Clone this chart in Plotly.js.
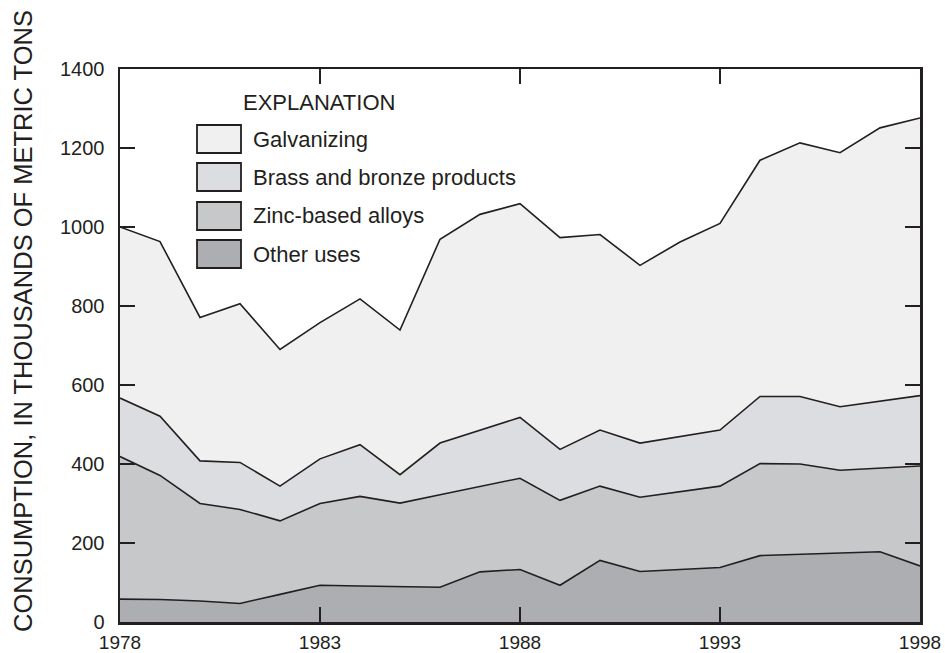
<!DOCTYPE html>
<html>
<head>
<meta charset="utf-8">
<script src="https://cdn.plot.ly/plotly-3.0.1.min.js"></script>
<style>html,body{margin:0;padding:0;background:#fff;}#chart{width:945px;height:653px;}</style>
</head>
<body>
<div id="chart"></div>
<script>
// Data (thousands of metric tons)
var years = [1978,1979,1980,1981,1982,1983,1984,1985,1986,1987,1988,1989,1990,1991,1992,1993,1994,1995,1996,1997,1998];
var otherUses = [58,57,53,47,70,93,91,89,88,127,133,93,156,128,133,138,168,171,174,178,142];
var zincAlloys = [361,314,247,238,186,207,227,212,234,216,231,215,188,188,197,206,233,229,210,212,253];
var brassBronze = [148,150,108,119,88,113,131,72,131,142,154,129,142,137,140,142,170,171,161,169,178];
var galvanizing = [433,442,363,402,346,345,369,366,516,547,541,536,495,450,492,523,598,642,643,692,703];
var seriesNames = ["Galvanizing","Brass and bronze products","Zinc-based alloys","Other uses"];
var legendTitle = "EXPLANATION";
var yTitle = "CONSUMPTION, IN THOUSANDS OF METRIC TONS";

var colors = {"Galvanizing":"#f0f0f0","Brass and bronze products":"#dcdde0","Zinc-based alloys":"#c7c8ca","Other uses":"#adaeb1"};
var ink = "#231f20";
var font = "Liberation Sans, Arial, sans-serif";

function tr(name, vals){
  return {x: years, y: vals, name: name, type: "scatter", mode: "lines",
    stackgroup: "one", line: {color: ink, width: 1.6}, fillcolor: colors[name], hoverinfo: "x+y+name"};
}
var data = [
  tr("Other uses", otherUses),
  tr("Zinc-based alloys", zincAlloys),
  tr("Brass and bronze products", brassBronze),
  tr("Galvanizing", galvanizing)
];

// plot area geometry in pixels (for legend placement)
var L = 120, R = 920, T = 69, B = 622;
function px(x){ return (x - L) / (R - L); }
function py(y){ return (B - y) / (B - T); }

var shapes = [], annotations = [];
var swTop = [125, 163, 202, 240];
seriesNames.forEach(function(n, i){
  shapes.push({type: "rect", xref: "paper", yref: "paper", x0: px(197), x1: px(241),
    y0: py(swTop[i] + 28), y1: py(swTop[i]), fillcolor: colors[n], line: {color: ink, width: 1.8}, layer: "above"});
  annotations.push({xref: "paper", yref: "paper", x: px(251), y: py(swTop[i] + 14), xanchor: "left", yanchor: "middle",
    text: n, showarrow: false, font: {family: font, size: 22, color: ink}});
});
annotations.push({xref: "paper", yref: "paper", x: px(241), y: py(102), xanchor: "left", yanchor: "middle",
  text: legendTitle, showarrow: false, font: {family: font, size: 22, color: ink}});
annotations.push({xref: "paper", yref: "paper", x: px(23), y: py(321), xanchor: "center", yanchor: "middle",
  text: yTitle, textangle: -90, showarrow: false, font: {family: font, size: 25.5, color: ink}});

var layout = {
  width: 945, height: 653,
  margin: {l: 120, r: 25, t: 69, b: 31},
  paper_bgcolor: "#ffffff", plot_bgcolor: "#ffffff",
  showlegend: false,
  font: {family: font, size: 20, color: ink},
  xaxis: {range: [1978, 1998], tick0: 1978, dtick: 5, ticks: "inside", ticklen: 15, tickwidth: 2, tickcolor: ink,
    showline: true, linecolor: ink, linewidth: 2.5, mirror: "allticks", showgrid: false, zeroline: false,
    ticklabelstandoff: 2, tickfont: {family: font, size: 19, color: ink}, fixedrange: true},
  yaxis: {range: [0, 1400], tick0: 0, dtick: 200, ticks: "inside", ticklen: 15, tickwidth: 2, tickcolor: ink,
    showline: true, linecolor: ink, linewidth: 2.5, mirror: "allticks", showgrid: false, zeroline: false,
    ticklabelstandoff: 9, tickfont: {family: font, size: 20, color: ink}, fixedrange: true},
  shapes: shapes,
  annotations: annotations
};
Plotly.newPlot("chart", data, layout, {displayModeBar: false, staticPlot: true});
</script>
</body>
</html>
